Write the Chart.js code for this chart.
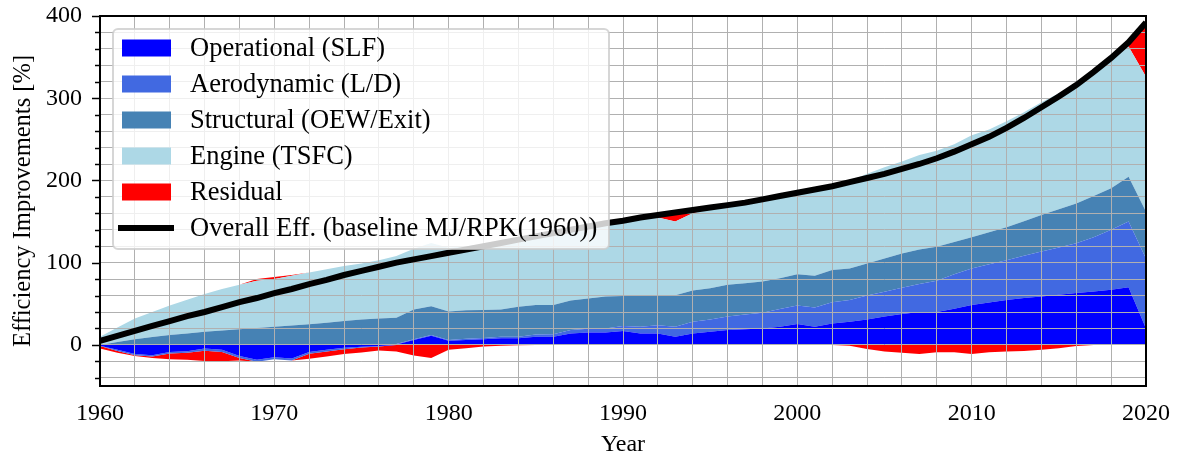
<!DOCTYPE html>
<html>
<head>
<meta charset="utf-8">
<script src="https://cdn.jsdelivr.net/npm/chart.js@4.4.1/dist/chart.umd.min.js"></script>
<style>
  html, body { margin: 0; padding: 0; background: #fff; }
  canvas { display: block; }
</style>
</head>
<body>
<canvas id="chart" width="1177" height="454"></canvas>
<script>
var years = [1960, 1961, 1962, 1963, 1964, 1965, 1966, 1967, 1968, 1969,
    1970, 1971, 1972, 1973, 1974, 1975, 1976, 1977, 1978, 1979,
    1980, 1981, 1982, 1983, 1984, 1985, 1986, 1987, 1988, 1989,
    1990, 1991, 1992, 1993, 1994, 1995, 1996, 1997, 1998, 1999,
    2000, 2001, 2002, 2003, 2004, 2005, 2006, 2007, 2008, 2009,
    2010, 2011, 2012, 2013, 2014, 2015, 2016, 2017, 2018, 2019, 2020];

var operational = [-1, -6, -11, -12.5, -8.5, -7.7, -4.5, -6, -13.4, -18,
    -15, -16.5, -8.5, -6, -3.6, -2.4, -1.2, 0.5, 6, 11,
    5, 6, 7, 8, 8, 10, 10, 14, 15, 15,
    17, 14, 13.7, 10, 14, 16, 18, 19, 20, 22,
    25.5, 22, 26, 28, 31, 34.5, 37.5, 40, 40, 44,
    48.5, 51.5, 54.5, 57, 59, 61, 63, 65, 67, 70, 20];

var aerodynamic = [-0.5, -1.5, -1.5, -1.5, -2, -2, -2.5, -2.5, -2.5, -2.5,
    -2.5, -2.5, -2.4, -2, -1.6, -0.8, -0.8, 0.5, 1, 1,
    1, 1.5, 1.5, 2, 2, 2.5, 3, 4, 4.5, 5,
    6, 8, 10.3, 12, 14, 15, 16.5, 18, 19, 21.5,
    22.5, 23.5, 26, 26.5, 29, 30, 32, 34, 38, 42,
    44.5, 46.5, 48.5, 51.5, 54.5, 57.5, 60.5, 66, 73, 80, 85];

var structural = [0, 3.5, 7, 9.5, 12, 14, 16, 17.5, 19, 20.5,
    22, 23.5, 25, 27, 29, 31, 32, 32, 36, 35,
    34.5, 34.5, 34, 33, 36.5, 36, 35.5, 36, 37, 39,
    36.5, 38, 36.8, 38.5, 38, 38, 38.5, 38, 38, 37.5,
    38, 38.5, 39, 38.5, 39, 40.5, 41.5, 42, 41.5, 39,
    38, 39, 40, 42, 44.5, 46.5, 48.5, 50, 50.5, 54.5, 57];

var engine = [10, 17.5, 25, 30.5, 36, 41, 46, 50.5, 54, 57.5,
    58, 60.5, 63, 65, 67, 68, 71, 75, 74, 77,
    77.5, 78, 79.5, 82, 82, 83.5, 87.5, 86, 87.5, 89,
    91, 93, 94.2, 89.5, 94, 96, 96, 97.5, 100, 100,
    99, 105, 102, 106, 109, 111, 112, 115, 116.5, 119,
    124, 125, 129, 132.5, 137, 141, 145, 151, 158.5, 158.5, 164];

var residual = [-3, -2, -1, -2, -7, -8.5, -12.5, -11.5, -3, 2,
    2.5, 1, -6, -6, -6, -6, -4.8, -8, -13, -16,
    -6, -4, -2, -1, -0.5, 0, 0, 0, 0, 0,
    0.5, 2, 3, 11, 4, 2, 1, 0.5, 0, 0,
    0, 0, 0, -1, -5, -8, -9.5, -11, -9, -9,
    -11, -9, -8, -7.5, -6, -4, -1.2, 0, 0, 3, 64];

var overall = [5, 11, 17, 23, 29, 35, 40, 46, 52, 57,
    63, 68, 74, 79, 85, 90, 95, 100, 104, 108,
    112, 116, 120, 124, 128, 132, 136, 140, 144, 148,
    151, 155, 158, 161, 164, 167, 170, 173, 177, 181,
    185, 189, 193, 198, 203, 208, 214, 220, 227, 235,
    244, 253, 264, 276, 289, 302, 316, 332, 349, 368, 392];

var seriesNames = ["Operational (SLF)", "Aerodynamic (L/D)", "Structural (OEW/Exit)",
    "Engine (TSFC)", "Residual", "Overall Eff. (baseline MJ/RPK(1960))"];
var seriesColors = ["blue", "royalblue", "steelblue", "lightblue", "red", "black"];

var xTicks = [1960, 1962, 1964, 1966, 1968, 1970, 1972, 1974, 1976, 1978,
    1980, 1982, 1984, 1986, 1988, 1990, 1992, 1994, 1996, 1998,
    2000, 2002, 2004, 2006, 2008, 2010, 2012, 2014, 2016, 2018, 2020];
var yTicks = [-40, -20, 0, 20, 40, 60, 80, 100, 120, 140, 160, 180, 200,
    220, 240, 260, 280, 300, 320, 340, 360, 380, 400];

var serif = "'Liberation Serif', 'Times New Roman', serif";

function posPart(arr) { return arr.map(function (v) { return Math.max(v, 0); }); }
function negPart(arr) { return arr.map(function (v) { return Math.min(v, 0); }); }

function area(label, data, color, stack, fill) {
    return {
        label: label,
        data: data,
        stack: stack,
        fill: fill,
        backgroundColor: color,
        borderColor: "transparent",
        borderWidth: 0,
        pointRadius: 0,
        tension: 0
    };
}

// positive parts stacked upwards, negative parts stacked downwards
var datasets = [
    area(seriesNames[0], posPart(operational), seriesColors[0], "pos", "origin"),
    area(seriesNames[1], posPart(aerodynamic), seriesColors[1], "pos", 0),
    area(seriesNames[2], posPart(structural), seriesColors[2], "pos", 1),
    area(seriesNames[3], posPart(engine), seriesColors[3], "pos", 2),
    area(seriesNames[4], posPart(residual), seriesColors[4], "pos", 3),
    area(seriesNames[0], negPart(operational), seriesColors[0], "neg", "origin"),
    area(seriesNames[1], negPart(aerodynamic), seriesColors[1], "neg", 5),
    area(seriesNames[4], negPart(residual), seriesColors[4], "neg", 6),
    {
        label: seriesNames[5],
        data: overall,
        stack: "total",
        fill: false,
        borderColor: "black",
        borderWidth: 6,
        pointRadius: 0,
        tension: 0,
        order: -1
    }
];

var extras = {
    id: "extras",
    beforeDatasetDraw: function (chart, args) {
        // grid above the areas, below the overall line
        if (args.index === 8) {
            chart.scales.x.drawGrid(chart.chartArea);
            chart.scales.y.drawGrid(chart.chartArea);
        }
    },
    afterDraw: function (chart) {
        var ctx = chart.ctx;
        var a = chart.chartArea;
        var ys = chart.scales.y;
        ctx.save();

        // y tick marks, long on labelled ticks
        ctx.strokeStyle = "#000";
        ctx.lineWidth = 1.5;
        yTicks.forEach(function (v) {
            var py = Math.round(ys.getPixelForValue(v)) + 0.5;
            var len = v % 100 === 0 ? 8 : 5;
            ctx.beginPath();
            ctx.moveTo(a.left - len, py);
            ctx.lineTo(a.left, py);
            ctx.stroke();
        });

        // legend
        var lx = a.left + 13, ly = a.top + 13, lw = 496, lh = 220, r = 5;
        ctx.beginPath();
        ctx.moveTo(lx + r, ly);
        ctx.lineTo(lx + lw - r, ly);
        ctx.arcTo(lx + lw, ly, lx + lw, ly + r, r);
        ctx.lineTo(lx + lw, ly + lh - r);
        ctx.arcTo(lx + lw, ly + lh, lx + lw - r, ly + lh, r);
        ctx.lineTo(lx + r, ly + lh);
        ctx.arcTo(lx, ly + lh, lx, ly + lh - r, r);
        ctx.lineTo(lx, ly + r);
        ctx.arcTo(lx, ly, lx + r, ly, r);
        ctx.closePath();
        ctx.fillStyle = "rgba(255,255,255,0.8)";
        ctx.fill();
        ctx.strokeStyle = "rgba(204,204,204,0.8)";
        ctx.lineWidth = 2;
        ctx.stroke();

        ctx.font = "26.5px " + serif;
        ctx.textBaseline = "middle";
        ctx.textAlign = "left";
        for (var i = 0; i < seriesNames.length; i++) {
            var cy = ly + 19 + i * 36;
            if (i < 5) {
                ctx.fillStyle = seriesColors[i];
                ctx.fillRect(lx + 9, cy - 8.5, 49, 17);
            } else {
                ctx.strokeStyle = seriesColors[i];
                ctx.lineWidth = 6;
                ctx.beginPath();
                ctx.moveTo(lx + 5, cy);
                ctx.lineTo(lx + 61, cy);
                ctx.stroke();
            }
            ctx.fillStyle = "#000";
            ctx.fillText(seriesNames[i], lx + 77, cy + 1);
        }

        // frame
        ctx.strokeStyle = "#000";
        ctx.lineWidth = 2;
        ctx.strokeRect(a.left, a.top, a.right - a.left, a.bottom - a.top);
        ctx.restore();
    }
};

var ctx = document.getElementById("chart").getContext("2d");
var chart = new Chart(ctx, {
    type: "line",
    data: { labels: years, datasets: datasets },
    options: {
        responsive: false,
        animation: false,
        devicePixelRatio: 1,
        layout: { padding: { top: 16, right: 31, left: 0, bottom: 0 } },
        plugins: {
            legend: { display: false },
            tooltip: { enabled: false }
        },
        scales: {
            x: {
                type: "linear",
                min: 1960,
                max: 2020,
                afterBuildTicks: function (s) { s.ticks = xTicks.map(function (v) { return { value: v }; }); },
                afterFit: function (s) { s.height = 68; s.paddingLeft = 0; s.paddingRight = 0; },
                grid: { color: "#b0b0b0", lineWidth: 1, drawTicks: false },
                border: { display: false },
                ticks: {
                    padding: 13,
                    color: "#000",
                    maxRotation: 0,
                    autoSkip: false,
                    font: { family: serif, size: 24 },
                    callback: function (v) { return v % 10 === 0 ? String(v) : ""; }
                },
                title: {
                    display: true,
                    text: "Year",
                    color: "#000",
                    padding: 0,
                    font: { family: serif, size: 24, lineHeight: 0.8 }
                }
            },
            y: {
                stacked: true,
                min: -50,
                max: 400,
                afterBuildTicks: function (s) { s.ticks = yTicks.map(function (v) { return { value: v }; }); },
                afterFit: function (s) { s.width = 100; s.paddingTop = 0; s.paddingBottom = 0; },
                grid: { color: "#b0b0b0", lineWidth: 1, drawTicks: true, tickLength: 8, tickColor: "transparent" },
                border: { display: false },
                ticks: {
                    padding: 10,
                    color: "#000",
                    autoSkip: false,
                    font: { family: serif, size: 24 },
                    callback: function (v) { return v % 100 === 0 ? String(v) : ""; }
                },
                title: {
                    display: true,
                    text: "Efficiency Improvements [%]",
                    color: "#000",
                    padding: { top: 9, bottom: 0 },
                    font: { family: serif, size: 24.5 }
                }
            }
        }
    },
    plugins: [extras]
});
</script>
</body>
</html>
